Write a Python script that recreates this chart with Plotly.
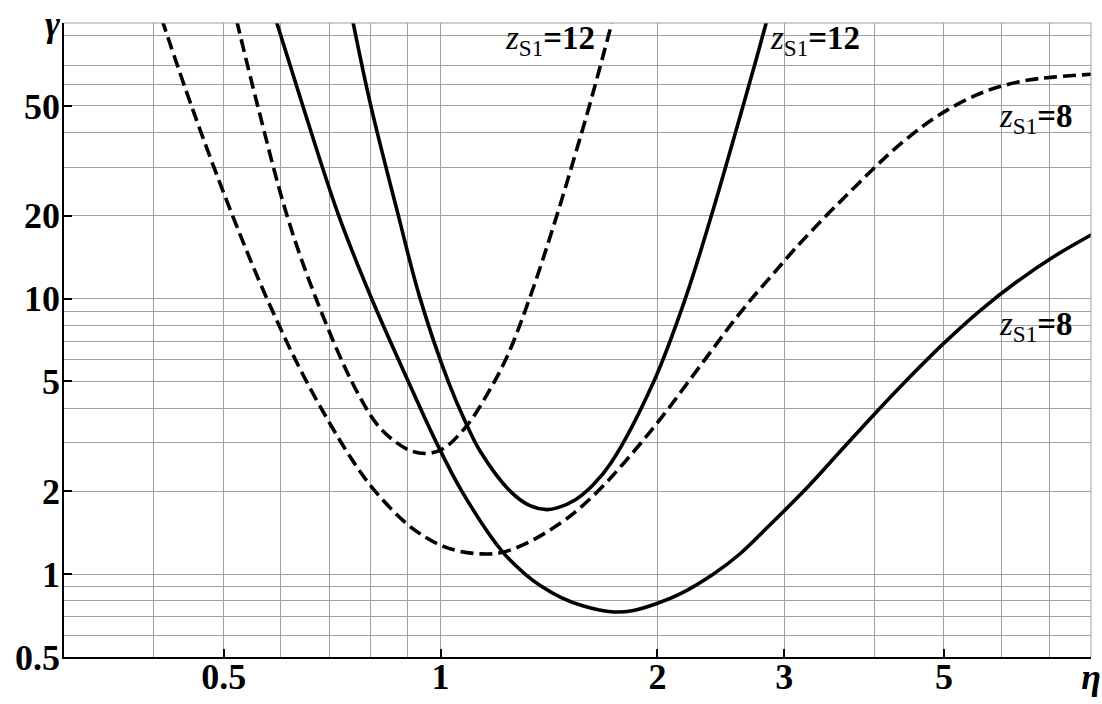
import math
import plotly.graph_objects as go

# gamma(eta) curves, solid and dashed families, for z_S1 = 8 and 12
eta_solid_8 = [0.591, 0.6435, 0.721, 0.8023, 0.902, 0.988, 1.070, 1.216, 1.31, 1.375,
               1.471, 1.575, 1.724, 1.845, 1.997, 2.161, 2.393, 2.6, 2.837, 3.194,
               3.597, 3.981, 4.42, 5.012, 5.623, 6.31, 7.08, 8.03]
gamma_solid_8 = [102.1, 50.2, 20.2, 9.98, 5.0, 2.98, 2.0, 1.213, 1.0, 0.909,
                 0.822, 0.767, 0.730, 0.736, 0.782, 0.852, 1.0, 1.18, 1.47, 2.0,
                 2.807, 3.75, 5.0, 6.93, 9.08, 11.5, 14.12, 17.09]

eta_solid_12 = [0.755, 0.80, 0.875, 0.935, 1.025, 1.085, 1.135, 1.249, 1.331, 1.404,
                1.455, 1.539, 1.629, 1.724, 1.977, 2.187, 2.377, 2.63, 2.735, 2.838]
gamma_solid_12 = [102.1, 50.1, 19.7, 10.16, 4.99, 3.52, 2.79, 2.0, 1.77, 1.714,
                  1.742, 1.862, 2.11, 2.53, 5.0, 10.0, 20.0, 50.0, 71.8, 102.1]

eta_dashed_8 = [0.410, 0.4527, 0.5123, 0.5741, 0.6498, 0.7485, 0.811, 0.898, 0.957, 1.009,
                1.064, 1.135, 1.21, 1.317, 1.471, 1.575, 1.685, 1.804, 1.931, 2.066,
                2.211, 2.367, 2.533, 2.711, 2.901, 3.105, 3.40, 3.68, 3.98, 4.264,
                4.667, 5.05, 5.53, 5.98, 6.55, 7.09, 8.03]
gamma_dashed_8 = [103.5, 48.6, 20.5, 9.98, 5.06, 2.67, 2.0, 1.52, 1.352, 1.26,
                  1.209, 1.184, 1.194, 1.294, 1.538, 1.773, 2.10, 2.56, 3.16, 3.95,
                  5.01, 6.36, 8.07, 10.07, 12.35, 15.15, 19.5, 24.0, 29.4, 34.8,
                  42.1, 48.3, 54.6, 58.8, 62.1, 63.6, 65.2]

eta_dashed_12 = [0.521, 0.5573, 0.612, 0.6715, 0.7527, 0.8157, 0.860, 0.907, 0.957, 1.009,
                 1.085, 1.167, 1.24, 1.329, 1.45, 1.609, 1.675, 1.729]
gamma_dashed_12 = [102.1, 50.0, 20.0, 10.0, 5.0, 3.5, 3.06, 2.81, 2.74, 2.855,
                   3.43, 4.6, 6.25, 10.0, 20.0, 50.0, 73.4, 100.0]

# axis ticks, labels and grid positions
x_tick_vals = [0.5, 1, 2, 3, 5, 8]
x_tick_text = ["0.5", "1", "2", "3", "5", "<i>η</i>"]
x_grid_minor = [0.4, 0.6, 0.7, 0.8, 0.9, 4, 6, 7]
y_tick_vals = [0.5, 1, 2, 5, 10, 20, 50, 100]
y_tick_text = ["0.5", "1", "2", "5", "10", "20", "50", "<i>γ</i>"]
y_grid_minor = [0.6, 0.7, 0.8, 0.9, 3, 4, 6, 7, 8, 9, 30, 40, 60, 70, 90]

# curve labels: (value of z_S1, eta, gamma)
curve_labels = [
    ("12", 1.42, 86.7),
    ("12", 3.312, 86.7),
    ("8", 6.716, 45.2),
    ("8", 6.716, 7.89),
]

GRID = "#a0a0a0"
SERIF = "Liberation Serif, Times New Roman, Times, serif"

fig = go.Figure()
line_solid = dict(color="black", width=3.6, shape="spline", smoothing=1.0)
line_dash = dict(color="black", width=3.6, shape="spline", smoothing=1.0, dash="13px,6px")

fig.add_trace(go.Scatter(x=eta_solid_8, y=gamma_solid_8, mode="lines", line=line_solid))
fig.add_trace(go.Scatter(x=eta_solid_12, y=gamma_solid_12, mode="lines", line=line_solid))
fig.add_trace(go.Scatter(x=eta_dashed_8, y=gamma_dashed_8, mode="lines", line=line_dash))
fig.add_trace(go.Scatter(x=eta_dashed_12, y=gamma_dashed_12, mode="lines", line=line_dash))

for value, ex, gy in curve_labels:
    fig.add_annotation(
        x=math.log10(ex), y=math.log10(gy), xref="x", yref="y",
        text=f"<i>z</i><sub>S1</sub><b>={value}</b>",
        showarrow=False, xanchor="center", yanchor="middle",
        font=dict(family=SERIF, size=33, color="black"),
    )

tick_font = dict(family=SERIF, size=36, color="black", weight="bold")

axis_common = dict(
    type="log", tickmode="array",
    ticks="inside", ticklen=8, tickwidth=1.5, tickcolor="black",
    showline=True, linecolor="black", linewidth=1.5,
    showgrid=True, gridcolor=GRID, gridwidth=1, zeroline=False,
    tickfont=tick_font, automargin=False,
)

fig.update_xaxes(
    range=[math.log10(0.3), math.log10(8)],
    tickvals=x_tick_vals, ticktext=x_tick_text,
    minor=dict(tickmode="array", tickvals=x_grid_minor, showgrid=True,
               gridcolor=GRID, gridwidth=1, ticks=""),
    ticklabelstandoff=-13,
    **axis_common,
)
fig.update_yaxes(
    range=[math.log10(0.5), math.log10(100)],
    tickvals=y_tick_vals, ticktext=y_tick_text,
    minor=dict(tickmode="array", tickvals=y_grid_minor, showgrid=True,
               gridcolor=GRID, gridwidth=1, ticks=""),
    ticklabelstandoff=-5,
    **axis_common,
)

# frame on the top and right edges in grid colour
fig.add_shape(type="line", xref="paper", yref="paper", x0=0, x1=1, y0=1, y1=1,
              line=dict(color=GRID, width=1))
fig.add_shape(type="line", xref="paper", yref="paper", x0=1, x1=1, y0=0, y1=1,
              line=dict(color=GRID, width=1))

fig.update_layout(
    width=1102, height=704,
    margin=dict(l=64, r=11, t=23, b=47),
    plot_bgcolor="white", paper_bgcolor="white",
    showlegend=False,
)

fig.write_html("out.html")
